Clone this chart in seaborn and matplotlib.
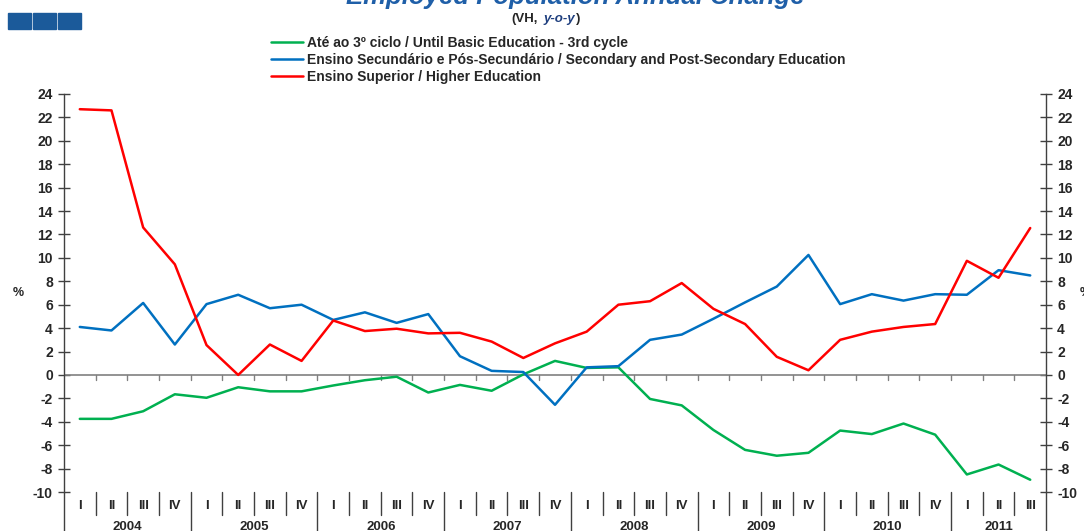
import numpy as np
import pandas as pd
import seaborn as sns
import matplotlib.pyplot as plt
from matplotlib.patches import Rectangle

# dados (VH, y-o-y, %)
quarters = ["I", "II", "III", "IV"] * 7 + ["I", "II", "III"]
years = [2004, 2005, 2006, 2007, 2008, 2009, 2010, 2011]
basic = [-3.75, -3.75, -3.1, -1.65, -1.95, -1.05, -1.4, -1.4, -0.9, -0.45, -0.15,
         -1.5, -0.85, -1.35, 0.05, 1.2, 0.6, 0.65, -2.05, -2.6, -4.7, -6.4,
         -6.9, -6.65, -4.75, -5.05, -4.15, -5.1, -8.5, -7.65, -8.95]
secondary = [4.1, 3.8, 6.15, 2.6, 6.05, 6.85, 5.7, 6.0, 4.7, 5.35, 4.45,
             5.2, 1.6, 0.35, 0.25, -2.55, 0.65, 0.75, 3.0, 3.45, 4.8, 6.2,
             7.55, 10.25, 6.05, 6.9, 6.35, 6.9, 6.85, 8.95, 8.5]
higher = [22.7, 22.6, 12.6, 9.45, 2.55, 0.0, 2.6, 1.2, 4.65, 3.75, 3.95,
          3.55, 3.6, 2.85, 1.45, 2.7, 3.7, 6.0, 6.3, 7.85, 5.65, 4.35,
          1.55, 0.4, 3.0, 3.7, 4.1, 4.35, 9.75, 8.3, 12.55]
names = ["Até ao 3º ciclo / Until Basic Education - 3rd cycle",
         "Ensino Secundário e Pós-Secundário / Secondary and Post-Secondary Education",
         "Ensino Superior / Higher Education"]
colors = ["#00B050", "#0070C0", "#FF0000"]

n = len(quarters)
df = pd.DataFrame({
    "t": list(range(n)) * 3,
    "v": basic + secondary + higher,
    "serie": [names[0]] * n + [names[1]] * n + [names[2]] * n,
})

sns.set_theme(style="white")
plt.rcParams["font.family"] = ["Liberation Sans", "DejaVu Sans"]
plt.rcParams["font.weight"] = "bold"
plt.rcParams["axes.unicode_minus"] = False

fig = plt.figure(figsize=(10.84, 5.31), dpi=100)
ax = fig.add_axes([0.059, 0.0734, 0.906, 0.7496])

axc = "#404040"
ax.axhline(0, color="#808080", lw=1.2, zorder=1)
sns.lineplot(data=df, x="t", y="v", hue="serie", hue_order=names,
             palette=colors, linewidth=1.8, ax=ax, zorder=3)

ax.set_xlim(-0.5, n - 0.5)
ax.set_ylim(-10, 24)
ax.set_yticks(np.arange(-10, 25, 2))
ax.set_xlabel("")
ax.set_ylabel("")

for s in ["top", "bottom"]:
    ax.spines[s].set_visible(False)
for s in ["left", "right"]:
    ax.spines[s].set_color(axc)
    ax.spines[s].set_linewidth(1)

ax.tick_params(axis="y", which="both", left=True, right=True, labelleft=True,
               labelright=True, direction="inout", length=8, width=1,
               color=axc, labelsize=10, pad=4)
for lab in ax.get_yticklabels():
    lab.set_fontweight("bold")

# ticks no eixo do zero
ax.set_xticks(np.arange(-0.5, n, 1))
ax.set_xticklabels([])
ax.tick_params(axis="x", bottom=False)
for b in np.arange(0.5, n - 0.5, 1):
    ax.plot([b, b], [0, -0.45], color="#808080", lw=1, zorder=1)

# etiquetas dos trimestres e anos
tr = ax.get_xaxis_transform()
for i, q in enumerate(quarters):
    ax.text(i, -0.035, q, transform=tr, ha="center", va="center",
            fontsize=9.5, fontweight="bold", clip_on=False)
for b in np.arange(0.5, n - 0.5, 1):
    if (b + 0.5) % 4 == 0:
        ax.axvline(b, ymin=-0.2, ymax=0, color=axc, lw=1, clip_on=False)
    else:
        ax.axvline(b, ymin=-0.058, ymax=0, color=axc, lw=1, clip_on=False)
ax.axvline(-0.5, ymin=-0.2, ymax=0, color=axc, lw=1, clip_on=False)
ax.axvline(n - 0.5, ymin=-0.2, ymax=0, color=axc, lw=1, clip_on=False)
for k, y in enumerate(years):
    start = k * 4
    end = min(start + 3, n - 1)
    ax.text((start + end) / 2, -0.072, str(y), transform=tr, ha="center",
            va="top", fontsize=9.5, fontweight="bold", clip_on=False)

# legenda
h, l = ax.get_legend_handles_labels()
if ax.get_legend():
    ax.get_legend().remove()
fig.legend(h, l, loc="upper left", bbox_to_anchor=(0.245, 0.942),
           frameon=False, handlelength=2.3, handletextpad=0.3,
           labelspacing=0.2, borderaxespad=0,
           prop={"weight": "bold", "size": 10})

# titulo (cortado no topo)
fig.text(0.5305, 0.9925, "Employed Population Annual Change", ha="center",
         va="baseline", fontsize=18.5, fontweight="bold", fontstyle="italic",
         color="#1F5FA8")
fig.text(511 / 1084, 1 - 19 / 531, "(VH,", ha="left", va="center",
         fontsize=9.5, fontweight="bold")
fig.text(544 / 1084, 1 - 19 / 531, "y-o-y", ha="left", va="center",
         fontsize=9.5, fontweight="bold", fontstyle="italic", color="#1F3F7F")
fig.text(576 / 1084, 1 - 19 / 531, ")", ha="left", va="center",
         fontsize=9.5, fontweight="bold")

# % nos eixos
fig.text(18 / 1084, 1 - 293 / 531, "%", ha="center", va="center",
         fontsize=9, fontweight="bold")
fig.text(1080 / 1084, 1 - 293 / 531, "%", ha="left", va="center",
         fontsize=9, fontweight="bold")

# quadrados azuis
for k in range(3):
    fig.patches.append(Rectangle(((8 + k * 25) / 1084, 1 - 29 / 531), 23 / 1084,
                                 16 / 531, transform=fig.transFigure,
                                 color="#1B5A9A", zorder=5))

fig.savefig("out.png", dpi=100)
